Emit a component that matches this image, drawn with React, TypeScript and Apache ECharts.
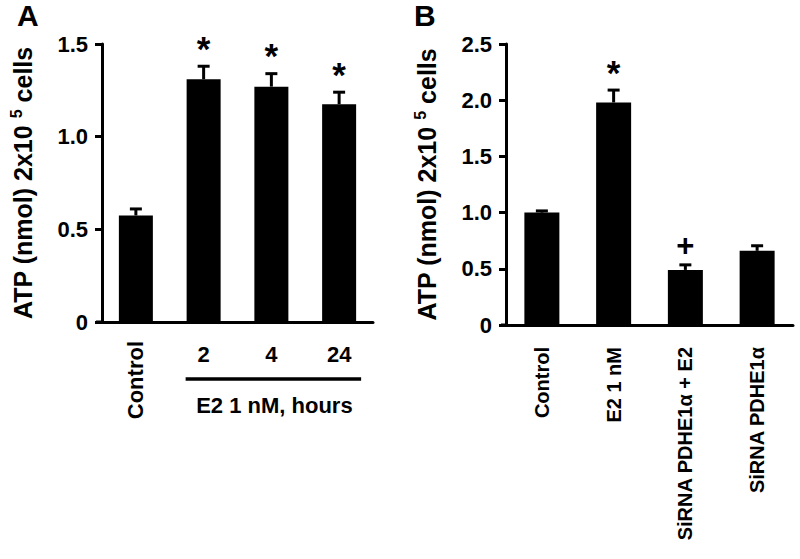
import React, { useEffect, useRef } from "react";
import * as echarts from "echarts";

const FONT = '"Liberation Sans", Arial, Helvetica, sans-serif';

// Panel A
const categoriesA = ["Control", "2", "4", "24"];
const meansA = [0.575, 1.31, 1.27, 1.175];
const errorsA = [0.035, 0.07, 0.07, 0.065];
const marksA = ["", "*", "*", "*"];
const yMaxA = 1.5;

// Panel B
const categoriesB = ["Control", "E2 1 nM", "SiRNA PDHE1α + E2", "SiRNA PDHE1α"];
const meansB = [1.0, 1.98, 0.49, 0.66];
const errorsB = [0.015, 0.11, 0.045, 0.045];
const marksB = ["", "*", "+", ""];
const yMaxB = 2.5;

const yInterval = 0.5;
const groupLabelA = "E2 1 nM, hours";
const yTitleText = "ATP (nmol) 2x10 {sup|5} cells";
const panelLetters = ["A", "B"];

const tickFmt = (v: number) => (v === 0 ? "0" : v.toFixed(1));

function makeYAxis(gridIndex: number, max: number) {
  return {
    gridIndex,
    type: "value",
    min: 0,
    max,
    interval: yInterval,
    splitLine: { show: false },
    axisLine: { show: true, lineStyle: { color: "#000", width: 3 } },
    axisTick: { show: true, length: 7, lineStyle: { color: "#000", width: 3 } },
    axisLabel: {
      formatter: tickFmt,
      color: "#000",
      fontSize: 22,
      fontWeight: "bold",
      fontFamily: FONT,
      margin: 14,
    },
    name: yTitleText,
    nameLocation: "middle",
    nameRotate: 90,
    nameGap: 64,
    nameTextStyle: {
      color: "#000",
      fontSize: 25,
      fontWeight: "bold",
      fontFamily: FONT,
      lineHeight: 30,
      rich: {
        sup: {
          fontSize: 16,
          fontWeight: "bold",
          fontFamily: FONT,
          color: "#000",
          verticalAlign: "top",
          lineHeight: 16,
        },
      },
    },
  };
}

function makeErrorSeries(axisIndex: number, means: number[], errors: number[], marks: string[]) {
  return {
    type: "custom",
    xAxisIndex: axisIndex === 0 ? 0 : 2,
    yAxisIndex: axisIndex,
    z: 5,
    data: means.map((m, i) => [i, m, errors[i]]),
    renderItem: (params: any, api: any) => {
      const i = api.value(0);
      const m = api.value(1);
      const e = api.value(2);
      const base = api.coord([i, m]);
      const top = api.coord([i, m + e]);
      const mark = marks[params.dataIndex];
      const children: any[] = [
        {
          type: "line",
          shape: { x1: base[0], y1: base[1], x2: top[0], y2: top[1] },
          style: { stroke: "#000", lineWidth: 3 },
        },
        {
          type: "line",
          shape: { x1: top[0] - 6, y1: top[1], x2: top[0] + 6, y2: top[1] },
          style: { stroke: "#000", lineWidth: 3 },
        },
      ];
      if (mark) {
        const isStar = mark === "*";
        children.push({
          type: "text",
          x: top[0],
          y: top[1] - (isStar ? 18 : 19),
          style: {
            text: mark,
            fontSize: isStar ? 35 : 31,
            fontWeight: "bold",
            fontFamily: FONT,
            fill: "#000",
            align: "center",
            verticalAlign: "middle",
          },
        });
      }
      return { type: "group", children };
    },
  };
}

const catLabel = {
  color: "#000",
  fontSize: 22,
  fontWeight: "bold",
  fontFamily: FONT,
  interval: 0,
};

export default function App() {
  const ref = useRef<HTMLDivElement>(null);

  useEffect(() => {
    if (!ref.current) return;
    const chart = echarts.init(ref.current, undefined, { renderer: "svg" });
    const option: any = {
      animation: false,
      backgroundColor: "#fff",
      grid: [
        { left: 102, top: 44, width: 271, height: 278, outerBoundsMode: "none", containLabel: false },
        { left: 506, top: 44, width: 287, height: 281, outerBoundsMode: "none", containLabel: false },
      ],
      xAxis: [
        {
          gridIndex: 0,
          type: "category",
          data: categoriesA,
          position: "bottom",
          axisLine: { lineStyle: { color: "#000", width: 3 } },
          axisTick: { alignWithLabel: true, length: 12, lineStyle: { color: "#000", width: 3 } },
          axisLabel: {
            ...catLabel,
            rotate: 90,
            margin: 19,
            formatter: (v: string, i: number) => (i === 0 ? v : ""),
          },
        },
        {
          gridIndex: 0,
          type: "category",
          data: categoriesA,
          position: "bottom",
          axisLine: { show: false },
          axisTick: { show: false },
          axisLabel: {
            ...catLabel,
            margin: 21,
            formatter: (v: string, i: number) => (i === 0 ? "" : v),
          },
        },
        {
          gridIndex: 1,
          type: "category",
          data: categoriesB,
          position: "bottom",
          axisLine: { lineStyle: { color: "#000", width: 3 } },
          axisTick: { alignWithLabel: true, length: 12, lineStyle: { color: "#000", width: 3 } },
          axisLabel: { ...catLabel, fontSize: 20, rotate: 90, margin: 22 },
        },
      ],
      yAxis: [makeYAxis(0, yMaxA), makeYAxis(1, yMaxB)],
      series: [
        {
          type: "bar",
          xAxisIndex: 0,
          yAxisIndex: 0,
          data: meansA,
          barWidth: 34,
          itemStyle: { color: "#000" },
        },
        {
          type: "bar",
          xAxisIndex: 2,
          yAxisIndex: 1,
          data: meansB,
          barWidth: 35,
          itemStyle: { color: "#000" },
        },
        makeErrorSeries(0, meansA, errorsA, marksA),
        makeErrorSeries(1, meansB, errorsB, marksB),
      ],
    };
    chart.setOption(option);

    const xStart = chart.convertToPixel({ xAxisIndex: 0 }, 1) as number;
    const xEnd = chart.convertToPixel({ xAxisIndex: 0 }, 3) as number;
    const zeroA = chart.convertToPixel({ yAxisIndex: 0 }, 0) as number;
    const zeroB = chart.convertToPixel({ yAxisIndex: 1 }, 0) as number;
    const lineY = 379;
    chart.setOption({
      graphic: [
        {
          type: "text",
          left: 17,
          top: 0,
          style: { text: panelLetters[0], fontSize: 30, fontWeight: "bold", fontFamily: FONT, fill: "#000" },
        },
        {
          type: "text",
          left: 414,
          top: 0,
          style: { text: panelLetters[1], fontSize: 30, fontWeight: "bold", fontFamily: FONT, fill: "#000" },
        },
        {
          type: "line",
          shape: { x1: 96, y1: zeroA, x2: 103, y2: zeroA },
          style: { stroke: "#000", lineWidth: 3 },
        },
        {
          type: "line",
          shape: { x1: 501, y1: zeroB, x2: 507, y2: zeroB },
          style: { stroke: "#000", lineWidth: 3 },
        },
        {
          type: "line",
          shape: { x1: xStart - 18, y1: lineY, x2: xEnd + 22, y2: lineY },
          style: { stroke: "#000", lineWidth: 3.5 },
        },
        {
          type: "text",
          x: (xStart + xEnd) / 2 + 3,
          y: 405,
          style: {
            text: groupLabelA,
            fontSize: 22,
            fontWeight: "bold",
            fontFamily: FONT,
            fill: "#000",
            align: "center",
            verticalAlign: "middle",
          },
        },
      ],
    });

    return () => chart.dispose();
  }, []);

  return (
    <div
      ref={ref}
      style={{ position: "fixed", left: 0, top: 0, width: 800, height: 559 }}
    />
  );
}
